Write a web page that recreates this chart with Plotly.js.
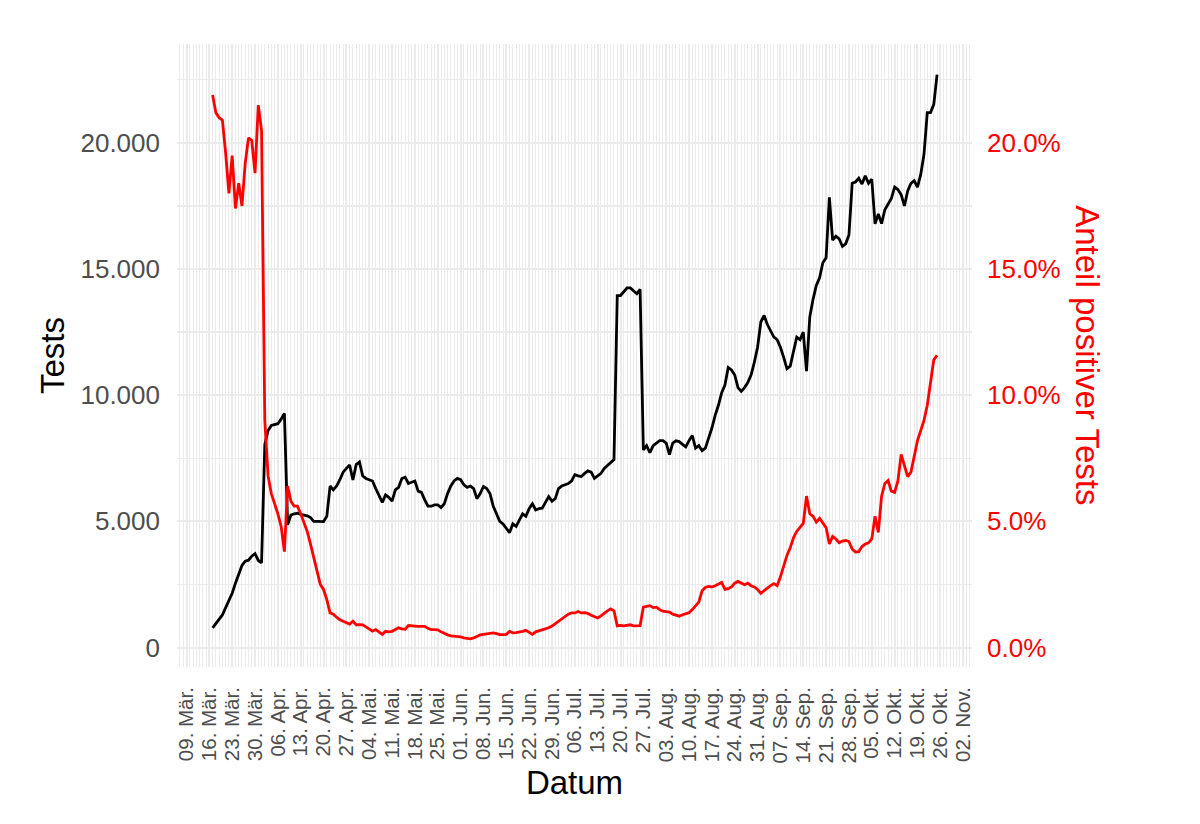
<!DOCTYPE html>
<html>
<head>
<meta charset="utf-8">
<script src="https://cdn.plot.ly/plotly-3.0.1.min.js"></script>
<style>html,body{margin:0;padding:0;background:#fff;}#chart{width:1200px;height:824px;}</style>
</head>
<body>
<div id="chart"></div>
<script>
// First day of the daily series (one value per day)
const startDate = '2020-03-17';

// Daily number of tests
const tests = [
  780,950,1120,1290,1580,1850,2150,2550,2920,3250,
  3420,3460,3620,3720,3450,3360,8050,8600,8800,8850,
  8870,9050,9280,4860,5250,5300,5320,5280,5250,5220,
  5150,5000,5000,5000,4990,5200,6400,6250,6400,6650,
  6950,7100,7230,6640,7250,7350,6800,6700,6650,6600,
  6300,6000,5750,6050,5950,5800,6250,6350,6700,6750,
  6500,6550,6600,6200,6150,5850,5600,5600,5650,5650,
  5550,5700,6100,6400,6600,6700,6650,6450,6350,6400,
  6300,5900,6100,6380,6300,6100,5600,5300,5000,4900,
  4700,4550,4900,4800,5050,5300,5200,5500,5700,5450,
  5500,5520,5750,5980,5800,5900,6300,6400,6450,6500,
  6600,6850,6800,6780,6900,7000,6950,6700,6800,6900,
  7100,7230,7350,7450,13950,13950,14100,14250,14250,14150,
  14020,14200,7830,8000,7720,8000,8100,8200,8200,8100,
  7650,8100,8190,8160,8050,7950,8200,8400,7900,8000,
  7800,7900,8300,8700,9200,9600,10100,10400,11100,11000,
  10800,10300,10150,10300,10500,10800,11300,11900,12900,13160,
  12800,12550,12300,12200,11900,11500,11050,11150,11700,12300,
  12200,12500,10950,13100,13800,14350,14650,15250,15450,17840,
  16150,16300,16200,15900,16000,16350,18400,18450,18600,18370,
  18700,18400,18560,16790,17180,16800,17350,17550,17800,18250,
  18150,17950,17500,18100,18400,18500,18250,18750,19550,21200,
  21200,21530,22710
];

// Daily share of positive tests, in percent
const positiveShare = [
  21.9,21.2,21.0,20.9,19.6,18.0,19.5,17.4,18.4,17.5,
  19.2,20.2,20.1,18.8,21.5,20.5,9.0,6.8,6.1,5.7,
  5.3,4.8,3.8,6.4,5.8,5.6,5.6,5.3,4.95,4.6,
  4.1,3.6,3.0,2.5,2.3,1.9,1.37,1.32,1.2,1.1,
  1.04,0.98,0.93,1.04,0.9,0.91,0.9,0.82,0.75,0.65,
  0.71,0.6,0.52,0.64,0.62,0.64,0.7,0.78,0.74,0.72,
  0.87,0.85,0.84,0.84,0.84,0.84,0.76,0.71,0.71,0.7,
  0.62,0.55,0.5,0.46,0.45,0.43,0.42,0.38,0.36,0.34,
  0.38,0.45,0.5,0.52,0.54,0.57,0.58,0.55,0.51,0.51,
  0.52,0.64,0.58,0.59,0.61,0.64,0.68,0.6,0.52,0.62,
  0.66,0.69,0.72,0.78,0.85,0.95,1.05,1.13,1.22,1.32,
  1.37,1.37,1.43,1.37,1.38,1.35,1.28,1.22,1.17,1.25,
  1.37,1.45,1.53,1.45,0.86,0.88,0.86,0.87,0.9,0.86,
  0.86,0.87,1.6,1.63,1.66,1.58,1.6,1.5,1.44,1.42,
  1.4,1.32,1.28,1.24,1.3,1.35,1.38,1.5,1.65,1.8,
  2.25,2.38,2.42,2.4,2.45,2.52,2.58,2.3,2.33,2.4,
  2.55,2.62,2.55,2.49,2.55,2.45,2.4,2.3,2.15,2.25,
  2.38,2.45,2.53,2.45,2.8,3.2,3.65,3.95,4.35,4.6,
  4.75,4.92,6.0,5.3,5.2,4.97,5.12,4.95,4.75,4.1,
  4.4,4.3,4.15,4.22,4.24,4.2,3.9,3.78,3.8,4.0,
  4.1,4.15,4.3,5.2,4.56,6.0,6.5,6.62,6.2,6.15,
  6.6,7.65,7.2,6.77,6.95,7.6,8.2,8.6,9.0,9.6,
  10.6,11.4,11.58
];

// x-axis ticks (weekly)
const xTickDates = [
  '2020-03-09','2020-03-16','2020-03-23','2020-03-30','2020-04-06','2020-04-13','2020-04-20','2020-04-27',
  '2020-05-04','2020-05-11','2020-05-18','2020-05-25','2020-06-01','2020-06-08','2020-06-15','2020-06-22',
  '2020-06-29','2020-07-06','2020-07-13','2020-07-20','2020-07-27','2020-08-03','2020-08-10','2020-08-17',
  '2020-08-24','2020-08-31','2020-09-07','2020-09-14','2020-09-21','2020-09-28','2020-10-05','2020-10-12',
  '2020-10-19','2020-10-26','2020-11-02'
];
const xTickLabels = [
  '09. Mär.','16. Mär.','23. Mär.','30. Mär.','06. Apr.','13. Apr.','20. Apr.','27. Apr.',
  '04. Mai.','11. Mai.','18. Mai.','25. Mai.','01. Jun.','08. Jun.','15. Jun.','22. Jun.',
  '29. Jun.','06. Jul.','13. Jul.','20. Jul.','27. Jul.','03. Aug.','10. Aug.','17. Aug.',
  '24. Aug.','31. Aug.','07. Sep.','14. Sep.','21. Sep.','28. Sep.','05. Okt.','12. Okt.',
  '19. Okt.','26. Okt.','02. Nov.'
];

// y-axis ticks
const yTickVals = [0, 5000, 10000, 15000, 20000];
const yTickLabels = ['0', '5.000', '10.000', '15.000', '20.000'];
const y2TickVals = [0, 5, 10, 15, 20];
const y2TickLabels = ['0.0%', '5.0%', '10.0%', '15.0%', '20.0%'];

// build consecutive daily dates
const dates = [];
(function () {
  const d0 = new Date(startDate + 'T00:00:00Z');
  for (let i = 0; i < tests.length; i++) {
    const d = new Date(d0.getTime() + i * 86400000);
    dates.push(d.toISOString().slice(0, 10));
  }
})();

const FONT = 'Liberation Sans, Arial, Helvetica, sans-serif';
const GRID = '#EBEBEB';

const traces = [
  {
    x: dates, y: tests, type: 'scatter', mode: 'lines',
    line: {color: '#000000', width: 2.8}, yaxis: 'y', name: 'Tests',
    hoverinfo: 'x+y'
  },
  {
    x: dates, y: positiveShare, type: 'scatter', mode: 'lines',
    line: {color: '#FF0000', width: 2.8}, yaxis: 'y2', name: 'Anteil positiver Tests',
    hoverinfo: 'x+y'
  }
];

const layout = {
  width: 1200, height: 824,
  margin: {l: 177, r: 228, t: 44, b: 157, pad: 0},
  paper_bgcolor: '#FFFFFF', plot_bgcolor: '#FFFFFF',
  showlegend: false,
  font: {family: FONT, color: '#000000'},
  xaxis: {
    type: 'date',
    range: ['2020-03-06 02:10', '2020-11-04 17:00'],
    tickmode: 'array', tickvals: xTickDates, ticktext: xTickLabels,
    tickangle: -90,
    tickfont: {family: FONT, size: 20.5, color: '#4D4D4D'},
    ticks: '', ticklabelstandoff: 15,
    showgrid: true, gridcolor: GRID, gridwidth: 2,
    minor: {tickmode: 'linear', tick0: '2020-03-09', dtick: 86400000, showgrid: true, gridcolor: GRID, gridwidth: 1},
    zeroline: false, showline: false,
    title: {text: 'Datum', font: {family: FONT, size: 33, color: '#000000'}, standoff: 8}
  },
  yaxis: {
    range: [-773, 23920],
    tickmode: 'array', tickvals: yTickVals, ticktext: yTickLabels,
    tickfont: {family: FONT, size: 26, color: '#4D4D4D'},
    ticks: '', ticklabelstandoff: 16,
    showgrid: true, gridcolor: GRID, gridwidth: 2,
    minor: {tickmode: 'linear', tick0: 0, dtick: 2500, showgrid: true, gridcolor: GRID, gridwidth: 1.3},
    zeroline: false, showline: false,
    title: {text: 'Tests', font: {family: FONT, size: 33, color: '#000000'}, standoff: 5}
  },
  yaxis2: {
    overlaying: 'y', side: 'right',
    range: [-0.773, 23.92],
    tickmode: 'array', tickvals: y2TickVals, ticktext: y2TickLabels,
    tickfont: {family: FONT, size: 26, color: '#FF0000'},
    ticks: '', ticklabelstandoff: 14,
    showgrid: false, zeroline: false, showline: false
  },
  annotations: [{
    text: 'Anteil positiver Tests', xref: 'paper', yref: 'paper',
    x: 1.145, y: 0.5, xanchor: 'center', yanchor: 'middle',
    textangle: 90, showarrow: false,
    font: {family: FONT, size: 33, color: '#FF0000'}
  }]
};

Plotly.newPlot('chart', traces, layout, {displayModeBar: false, staticPlot: true});
</script>
</body>
</html>
